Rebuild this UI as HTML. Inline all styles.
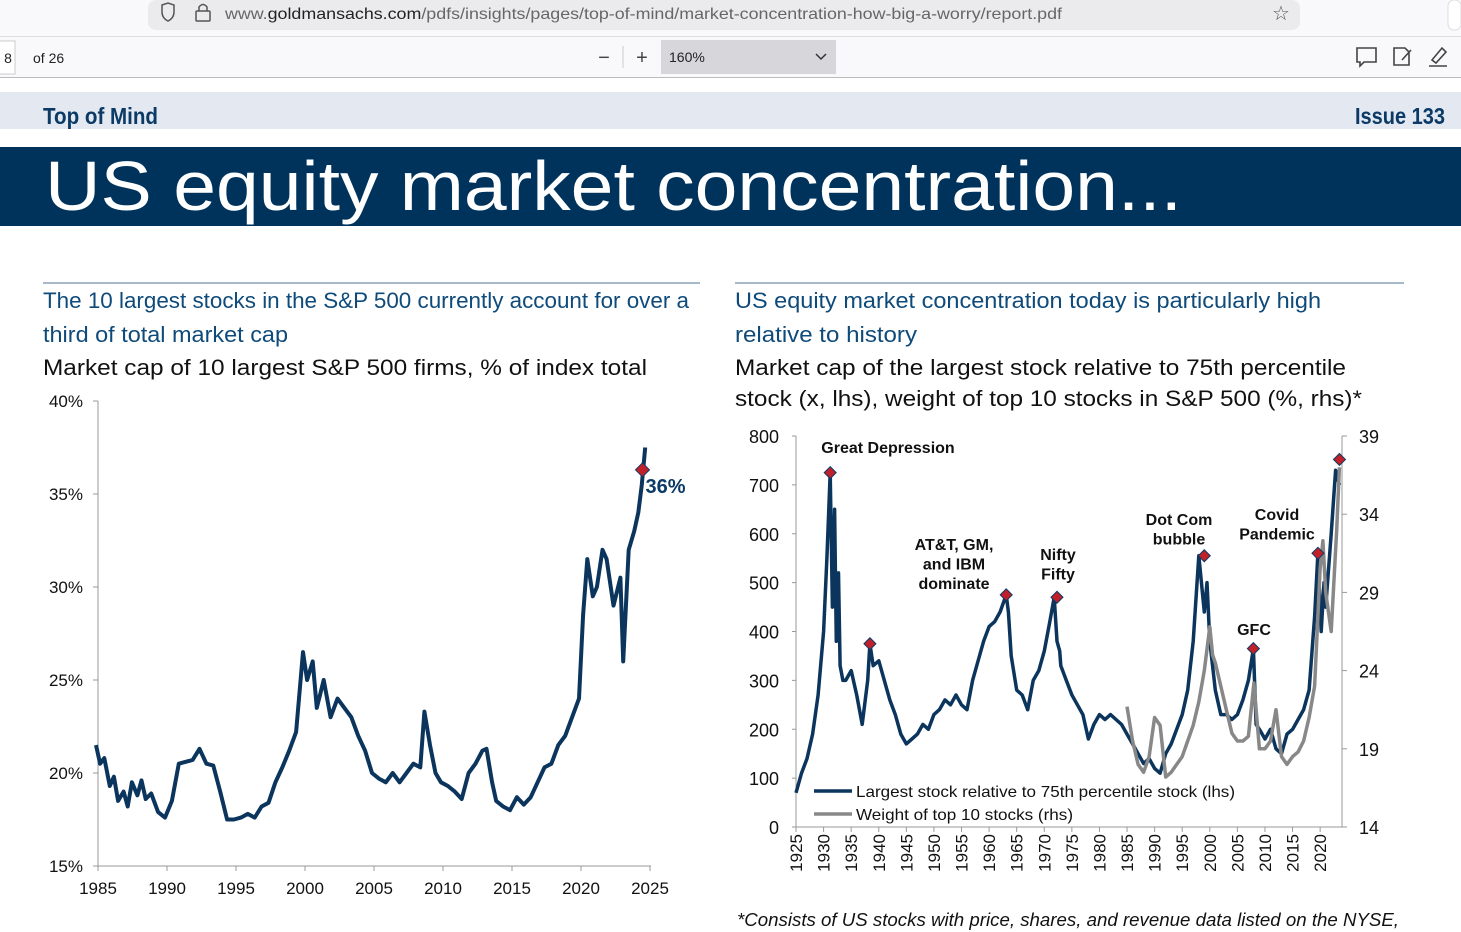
<!DOCTYPE html>
<html><head><meta charset="utf-8"><style>
html,body{margin:0;padding:0;background:#fff;}
svg{display:block;font-family:"Liberation Sans",sans-serif;}
</style></head><body>
<svg id="page" width="1461" height="932" viewBox="0 0 1461 932">
<rect x="0" y="0" width="1461" height="37" fill="#f9f9fb"/>
<rect x="148" y="0" width="1152" height="30" rx="8" fill="#ebebee"/>
<path d="M162 5 L168 3 L174 5 L174 12 Q174 18 168 21 Q162 18 162 12 Z" fill="none" stroke="#555" stroke-width="1.5"/>
<rect x="196" y="11" width="14" height="10" rx="1" fill="none" stroke="#555" stroke-width="1.5"/>
<path d="M199 11 V7 Q203 2 207 7 V11" fill="none" stroke="#555" stroke-width="1.5"/>
<text x="225" y="19" font-size="16" fill="#666" textLength="837" lengthAdjust="spacingAndGlyphs">www.<tspan fill="#222">goldmansachs.com</tspan>/pdfs/insights/pages/top-of-mind/market-concentration-how-big-a-worry/report.pdf</text>
<text x="1281" y="20" font-size="20" fill="#555" text-anchor="middle">☆</text>
<rect x="1448" y="0" width="13" height="30" rx="6" fill="#fff" stroke="#ddd"/>
<rect x="0" y="37" width="1461" height="40" fill="#f9f9fb"/>
<line x1="0" y1="36.5" x2="1461" y2="36.5" stroke="#ddd"/>
<line x1="0" y1="77.5" x2="1461" y2="77.5" stroke="#bbb"/>
<rect x="-1" y="41" width="16" height="33" fill="#fff" stroke="#ccc"/>
<text x="8" y="63" font-size="14" text-anchor="middle" fill="#222">8</text>
<text x="33" y="63" font-size="14" fill="#222">of 26</text>
<text x="604" y="64" font-size="20" text-anchor="middle" fill="#444">−</text>
<line x1="623" y1="46" x2="623" y2="68" stroke="#ccc"/>
<text x="642" y="64" font-size="20" text-anchor="middle" fill="#444">+</text>
<rect x="661" y="40" width="175" height="34" fill="#d7d7db"/>
<text x="669" y="62" font-size="14" fill="#222">160%</text>
<path d="M816 54 L821 59 L826 54" fill="none" stroke="#333" stroke-width="1.5"/>
<g fill="none" stroke="#444" stroke-width="1.6">
<path d="M1357 48 H1376 V62 H1364 L1360 66 V62 H1357 Z"/>
<path d="M1394 48 H1405 L1409 52 V65 H1394 Z M1402 60 L1411 50"/>
<path d="M1432 60 L1442 48 L1446 52 L1436 63 Z M1429 66 H1447"/>
</g>
<rect x="0" y="92" width="1461" height="37" fill="#e3e8f1"/>
<text x="43" y="124" font-size="23" font-weight="bold" fill="#0b3a66" textLength="115" lengthAdjust="spacingAndGlyphs">Top of Mind</text>
<text x="1445" y="124" font-size="23" font-weight="bold" fill="#0b3a66" text-anchor="end" textLength="90" lengthAdjust="spacingAndGlyphs">Issue 133</text>
<rect x="0" y="147" width="1461" height="79" fill="#00335c"/>
<text x="45" y="210" font-size="70" fill="#fff" textLength="1137" lengthAdjust="spacingAndGlyphs">US equity market concentration...</text>

<line x1="43" y1="283" x2="700" y2="283" stroke="#8aa0b8" stroke-width="1.5"/>
<text x="43" y="308" font-size="22" fill="#0e4a7a" textLength="646" lengthAdjust="spacingAndGlyphs">The 10 largest stocks in the S&amp;P 500 currently account for over a</text>
<text x="43" y="342" font-size="22" fill="#0e4a7a" textLength="245" lengthAdjust="spacingAndGlyphs">third of total market cap</text>
<text x="43" y="375" font-size="22" fill="#111" textLength="604" lengthAdjust="spacingAndGlyphs">Market cap of 10 largest S&amp;P 500 firms, % of index total</text>
<line x1="735" y1="283" x2="1404" y2="283" stroke="#8aa0b8" stroke-width="1.5"/>
<text x="735" y="308" font-size="22" fill="#0e4a7a" textLength="586" lengthAdjust="spacingAndGlyphs">US equity market concentration today is particularly high</text>
<text x="735" y="342" font-size="22" fill="#0e4a7a" textLength="182" lengthAdjust="spacingAndGlyphs">relative to history</text>
<text x="735" y="375" font-size="22" fill="#111" textLength="611" lengthAdjust="spacingAndGlyphs">Market cap of the largest stock relative to 75th percentile</text>
<text x="735" y="406" font-size="22" fill="#111" textLength="627" lengthAdjust="spacingAndGlyphs">stock (x, lhs), weight of top 10 stocks in S&amp;P 500 (%, rhs)*</text>
<text x="737" y="926" font-size="18" font-style="italic" fill="#111" textLength="662" lengthAdjust="spacingAndGlyphs">*Consists of US stocks with price, shares, and revenue data listed on the NYSE,</text>

<g id="left-chart"></g>
<g id="right-chart"></g>
</svg>
<script>
// ---- Left chart data ----
const leftYears = [1985,1985.3,1985.6,1986,1986.3,1986.6,1987,1987.3,1987.6,1988,1988.3,1988.6,1989,1989.5,1990,1990.5,1991,1991.5,1992,1992.5,1993,1993.5,1994,1994.5,1995,1995.5,1996,1996.5,1997,1997.5,1998,1998.5,1999,1999.5,2000,2000.3,2000.7,2001,2001.5,2002,2002.5,2003,2003.5,2004,2004.5,2005,2005.5,2006,2006.5,2007,2007.5,2008,2008.5,2008.8,2009.2,2009.6,2010,2010.5,2011,2011.5,2012,2012.5,2013,2013.3,2013.7,2014,2014.5,2015,2015.5,2016,2016.5,2017,2017.5,2018,2018.5,2019,2019.5,2020,2020.3,2020.6,2021,2021.3,2021.7,2022,2022.5,2023,2023.2,2023.6,2024,2024.3,2024.55,2024.8];
const leftValues = [21.5,20.5,20.8,19.3,19.8,18.5,19.0,18.2,19.5,18.8,19.6,18.6,18.9,17.9,17.6,18.5,20.5,20.6,20.7,21.3,20.5,20.4,19.0,17.5,17.5,17.6,17.8,17.6,18.2,18.4,19.5,20.3,21.2,22.2,26.5,25.0,26.0,23.5,25.0,23.0,24.0,23.5,23.0,22.0,21.2,20.0,19.7,19.5,20.0,19.5,20.0,20.5,20.3,23.3,21.5,20.0,19.5,19.3,19.0,18.6,20.0,20.5,21.2,21.3,19.5,18.5,18.2,18.0,18.7,18.3,18.7,19.5,20.3,20.5,21.5,22.0,23.0,24.0,28.5,31.5,29.5,30.0,32.0,31.5,29.0,30.5,26.0,32.0,33.0,34.0,35.5,37.5,36.0];
const leftYTicks = [15,20,25,30,35,40];
const leftXTicks = [1985,1990,1995,2000,2005,2010,2015,2020,2025];
const leftMarker = {year:2024.6, value:36.3, label:"36%"};

// ---- Right chart data ----
const rightYears = [1925,1926,1927,1928,1929,1930,1930.6,1931.2,1931.6,1932,1932.3,1932.7,1933,1933.5,1934,1935,1936,1937,1938,1938.4,1939,1940,1941,1942,1943,1944,1945,1946,1947,1948,1949,1950,1951,1952,1953,1954,1955,1956,1957,1958,1959,1960,1961,1962,1963.1,1963.5,1964,1965,1966,1967,1968,1969,1970,1971,1971.8,1972.3,1972.8,1973,1974,1975,1976,1977,1978,1979,1980,1981,1982,1983,1984,1985,1986,1987,1988,1989,1990,1991,1992,1993,1994,1995,1996,1997,1998,1999,1999.5,2000,2001,2002,2003,2004,2005,2006,2007,2007.9,2008.4,2009,2010,2011,2012,2013,2014,2015,2016,2017,2018,2019,2019.6,2020.2,2020.7,2021,2022,2022.8,2023.5];
const largestRatio = [70,110,140,190,270,400,550,725,450,650,380,520,330,300,300,320,270,210,300,375,330,340,300,260,230,190,170,180,190,210,200,230,240,260,250,270,250,240,300,340,380,410,420,440,475,440,350,280,270,240,300,320,360,420,470,380,360,330,300,270,250,230,180,210,230,220,230,220,210,190,170,150,130,140,120,110,150,170,200,230,280,380,555,440,500,380,280,230,230,220,230,260,300,365,210,200,180,200,160,150,190,200,220,240,280,430,560,400,500,450,600,730,700];
const top10Years = [1985,1986,1987,1988,1989,1990,1991,1992,1993,1994,1995,1996,1997,1998,1999,2000,2000.5,2001,2002,2003,2004,2005,2006,2007,2008,2009,2010,2011,2012,2013,2014,2015,2016,2017,2018,2019,2020,2020.5,2021,2022,2023,2023.5];
const top10Weight = [21.7,19.5,18.0,17.5,18.5,21.0,20.5,17.2,17.5,18.0,18.5,19.5,20.5,22.0,24.0,26.8,25.0,24.5,23.0,21.5,20.0,19.5,19.5,19.8,23.2,19.0,19.0,19.5,21.5,18.5,18.0,18.5,18.8,19.5,21.0,23.0,30.5,32.3,29.0,26.5,33.0,37.0];
const rightLeftTicks = [0,100,200,300,400,500,600,700,800];
const rightRightTicks = [14,19,24,29,34,39];
const rightXTicks = [1925,1930,1935,1940,1945,1950,1955,1960,1965,1970,1975,1980,1985,1990,1995,2000,2005,2010,2015,2020];
const peakYears = [1931.2,1938.4,1963.1,1972.3,1999,2007.9,2019.6,2023.5];
const peakValues = [725,375,475,470,555,365,560,752];
const annotationLabels = [["Great Depression"],["AT&T, GM,","and IBM","dominate"],["Nifty","Fifty"],["Dot Com","bubble"],["Covid","Pandemic"],["GFC"]];

const NS = "http://www.w3.org/2000/svg";
function mk(parent, tag, attrs, text){
  const e = document.createElementNS(NS, tag);
  for (const k in attrs) e.setAttribute(k, attrs[k]);
  if (text !== undefined) e.textContent = text;
  parent.appendChild(e);
  return e;
}
function diamond(g, x, y, r){
  return mk(g,'path',{d:`M${x} ${y-r} L${x+r} ${y} L${x} ${y+r} L${x-r} ${y} Z`, fill:'#c0202a', stroke:'#0b3a66','stroke-width':1});
}

(function(){
  const g = document.getElementById('left-chart');
  const X0=96, X1=648, Y0=866, Y1=401;
  const xs = y => X0 + (y-1985)/(2025-1985)*(X1-X0);
  const ys = v => Y0 - (v-15)/(40-15)*(Y0-Y1);
  mk(g,'line',{x1:X0+2,y1:Y1,x2:X0+2,y2:Y0,stroke:'#999','stroke-width':1});
  mk(g,'line',{x1:X0+2,y1:Y0,x2:X1+3,y2:Y0,stroke:'#999','stroke-width':1});
  leftYTicks.forEach(t=>{
    mk(g,'line',{x1:X0-3,y1:ys(t),x2:X0+2,y2:ys(t),stroke:'#999'});
    const l = mk(g,'text',{x:83,y:ys(t)+6,'font-size':17,'text-anchor':'end',fill:'#111'}, t+'%');
    
    
  });
  leftXTicks.forEach(t=>{
    mk(g,'line',{x1:xs(t)+2,y1:Y0,x2:xs(t)+2,y2:Y0+5,stroke:'#999'});
    const l = mk(g,'text',{x:xs(t)+2,y:894,'font-size':17,'text-anchor':'middle',fill:'#111'}, t);
    
    
  });
  const pts = leftYears.map((y,i)=>xs(y).toFixed(1)+','+ys(leftValues[i]).toFixed(1)).join(' ');
  const line = mk(g,'polyline',{points:pts,fill:'none',stroke:'#0b355d','stroke-width':4,'stroke-linejoin':'round'});
  
  
  const d = diamond(g, xs(leftMarker.year), ys(leftMarker.value), 7);
  
  
  const lbl = mk(g,'text',{x:xs(leftMarker.year)+3,y:ys(leftMarker.value)+23,'font-size':20,'font-weight':'bold',fill:'#0b3a66'}, leftMarker.label);
  
  
})();

(function(){
  const g = document.getElementById('right-chart');
  const X0=796, X1=1340, Y0=827, Y1=436;
  const xs = y => X0 + (y-1925)/(2023.6-1925)*(X1-X0);
  const yl = v => Y0 - v/800*(Y0-Y1);
  const yr = v => Y0 - (v-14)/(39-14)*(Y0-Y1);
  mk(g,'line',{x1:X0,y1:Y1,x2:X0,y2:Y0,stroke:'#999'});
  mk(g,'line',{x1:X1+2,y1:Y1,x2:X1+2,y2:Y0,stroke:'#999'});
  mk(g,'line',{x1:X0,y1:Y0,x2:X1+2,y2:Y0,stroke:'#999'});
  rightLeftTicks.forEach(t=>{
    mk(g,'line',{x1:X0-4,y1:yl(t),x2:X0,y2:yl(t),stroke:'#999'});
    const l = mk(g,'text',{x:779,y:yl(t)+7,'font-size':18,'text-anchor':'end',fill:'#111'}, t);
    
    
  });
  rightRightTicks.forEach(t=>{
    mk(g,'line',{x1:X1+2,y1:yr(t),x2:X1+7,y2:yr(t),stroke:'#999'});
    const l = mk(g,'text',{x:1359,y:yr(t)+7,'font-size':18,fill:'#111'}, t);
    
    
  });
  rightXTicks.forEach(t=>{
    mk(g,'line',{x1:xs(t),y1:Y0,x2:xs(t),y2:Y0+5,stroke:'#999'});
    const l = mk(g,'text',{x:0,y:0,'font-size':17,'text-anchor':'end',fill:'#111',transform:`translate(${xs(t)+6},${Y0+7}) rotate(-90)`}, t);
    
    
  });
  const gp = top10Years.map((y,i)=>xs(y).toFixed(1)+','+yr(top10Weight[i]).toFixed(1)).join(' ');
  const bp = rightYears.map((y,i)=>xs(y).toFixed(1)+','+yl(largestRatio[i]).toFixed(1)).join(' ');
  const blue = mk(g,'polyline',{points:bp,fill:'none',stroke:'#0b355d','stroke-width':3.5,'stroke-linejoin':'round'});
  
  
  const gray = mk(g,'polyline',{points:gp,fill:'none',stroke:'#888','stroke-width':3.5,'stroke-linejoin':'round'});
  
  
  peakYears.forEach((y,i)=>{
    const d = diamond(g, xs(y), yl(peakValues[i]), 6);
    
    
  });
  const annPos = [[888,453],[954,550],[1058,560],[1179,525],[1277,520],[1254,635]];
  annotationLabels.forEach((lines,i)=>{
    lines.forEach((s,j)=>{
      const t = mk(g,'text',{x:annPos[i][0],y:annPos[i][1]+j*19.5,'font-size':16,'font-weight':'bold','text-anchor':'middle',fill:'#111'}, s);
      
      
    });
  });
  mk(g,'line',{x1:814,y1:791,x2:852,y2:791,stroke:'#0b355d','stroke-width':3.5});
  const l1 = mk(g,'text',{x:856,y:797,'font-size':16,fill:'#111',textLength:379,lengthAdjust:'spacingAndGlyphs'}, 'Largest stock relative to 75th percentile stock (lhs)');
  
  
  mk(g,'line',{x1:814,y1:814,x2:852,y2:814,stroke:'#888','stroke-width':3.5});
  const l2 = mk(g,'text',{x:856,y:820,'font-size':16,fill:'#111',textLength:217,lengthAdjust:'spacingAndGlyphs'}, 'Weight of top 10 stocks (rhs)');
  
  
})();
</script>
</body></html>
